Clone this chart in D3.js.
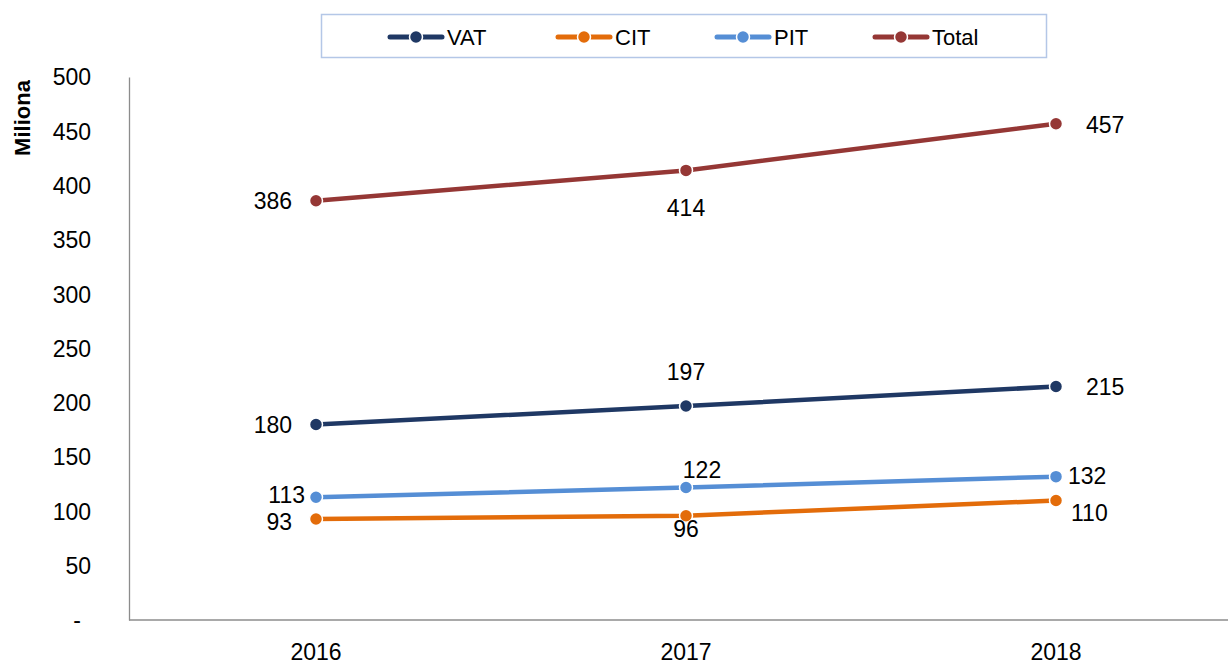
<!DOCTYPE html>
<html>
<head>
<meta charset="utf-8">
<script src="https://cdn.jsdelivr.net/npm/d3@7"></script>
<style>
  body { margin: 0; background: #fff; }
  text { font-family: "Liberation Sans", Arial, sans-serif; }
</style>
</head>
<body>
<div id="chart"></div>
<script>
const years = ["2016", "2017", "2018"];
const vat = [180, 197, 215];
const cit = [93, 96, 110];
const pit = [113, 122, 132];
const total = [386, 414, 457];
const yTicks = [0, 50, 100, 150, 200, 250, 300, 350, 400, 450, 500];

const series = [
    {name: "VAT", values: vat, color: "#1f3864"},
    {name: "CIT", values: cit, color: "#e36c0a"},
    {name: "PIT", values: pit, color: "#558ed5"},
    {name: "Total", values: total, color: "#953735"}
];

// label placement per series and year: [dx, dy, anchor]
const labelPos = {
    VAT: [[-24, 8, "end"], [0, -26, "middle"], [30, 8, "start"]],
    CIT: [[-24, 11, "end"], [0, 21, "middle"], [15, 20, "start"]],
    PIT: [[-11, 6, "end"], [16, -10, "middle"], [12, 7, "start"]],
    Total: [[-24, 8, "end"], [0, 46, "middle"], [30, 9, "start"]]
};

const W = 1228, H = 666;
const svg = d3.select("#chart").append("svg")
    .attr("width", W).attr("height", H);

const x = d3.scalePoint().domain(years).range([131, 1241]).padding(0.5);
const y = d3.scaleLinear().domain([0, 500]).range([620, 77]);

// y axis
const yAxis = svg.append("g")
    .attr("transform", "translate(129,0)")
    .call(d3.axisLeft(y).tickValues(yTicks).tickSize(0).tickPadding(38)
        .tickFormat(d => d === 0 ? "-" : d));
yAxis.select(".domain").attr("stroke", "#8c8c8c").attr("stroke-width", 1.3);
yAxis.selectAll("text")
    .style("font-size", "23px").attr("fill", "#000")
    .attr("dy", "0.34em");
yAxis.selectAll(".tick").filter(d => d === 0).select("text")
    .attr("text-anchor", "middle").attr("x", -52);

// x axis
svg.append("line")
    .attr("x1", 129).attr("x2", W).attr("y1", 620).attr("y2", 620)
    .attr("stroke", "#8c8c8c").attr("stroke-width", 1.3);
svg.append("g").selectAll("text")
    .data(years)
    .enter().append("text")
    .attr("x", d => x(d))
    .attr("y", 660)
    .attr("text-anchor", "middle")
    .style("font-size", "23px")
    .text(d => d);

// axis title
svg.append("text")
    .attr("transform", "translate(30,118) rotate(-90)")
    .attr("text-anchor", "middle")
    .style("font-size", "22px").style("font-weight", "bold")
    .text("Miliona");

const line = d3.line()
    .x((d, i) => x(years[i]))
    .y(d => y(d));

series.forEach(s => {
    const g = svg.append("g");
    g.append("path")
        .datum(s.values)
        .attr("d", line)
        .attr("fill", "none")
        .attr("stroke", s.color)
        .attr("stroke-width", 4.5)
        .attr("stroke-linecap", "round");
    g.selectAll("circle")
        .data(s.values)
        .enter().append("circle")
        .attr("cx", (d, i) => x(years[i]))
        .attr("cy", d => y(d))
        .attr("r", 6.5)
        .attr("fill", s.color)
        .attr("stroke", "#fff")
        .attr("stroke-width", 1.5);
    g.selectAll("text")
        .data(s.values)
        .enter().append("text")
        .attr("x", (d, i) => x(years[i]) + labelPos[s.name][i][0])
        .attr("y", (d, i) => y(d) + labelPos[s.name][i][1])
        .attr("text-anchor", (d, i) => labelPos[s.name][i][2])
        .style("font-size", "23px")
        .text(d => d);
});

// legend
const legend = svg.append("g");
legend.append("rect")
    .attr("x", 321.5).attr("y", 14.5).attr("width", 725).attr("height", 43)
    .attr("fill", "#fff").attr("stroke", "#b4c7e7").attr("stroke-width", 1.5);
const legX = [388, 556, 715, 873];
series.forEach((s, i) => {
    const lg = legend.append("g").attr("transform", `translate(${legX[i]},37)`);
    lg.append("line").attr("x1", 2).attr("x2", 54).attr("y1", 0).attr("y2", 0)
        .attr("stroke", s.color).attr("stroke-width", 5).attr("stroke-linecap", "round");
    lg.append("circle").attr("cx", 28).attr("cy", 0).attr("r", 6.5)
        .attr("fill", s.color).attr("stroke", "#fff").attr("stroke-width", 1.5);
    lg.append("text").attr("x", 59).attr("y", 8)
        .style("font-size", "22px")
        .text(s.name);
});
</script>
</body>
</html>
